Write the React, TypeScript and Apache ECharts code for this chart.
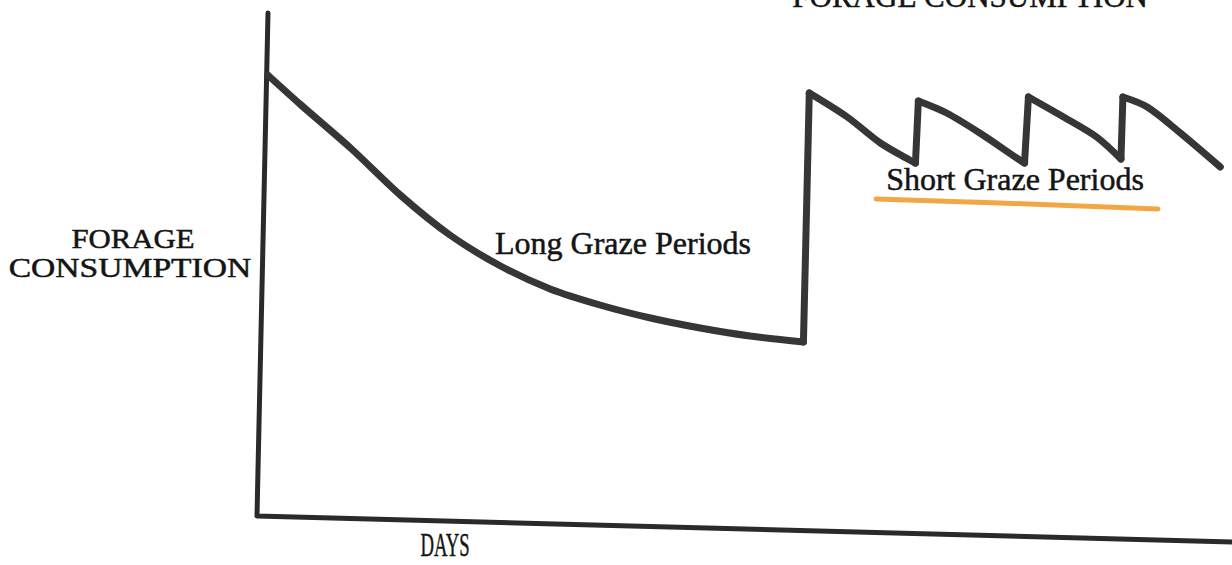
import React, { useEffect, useRef } from "react";
import * as echarts from "echarts";

// Forage consumption curve (days on x 0..100, consumption on y 0..100)
const longGrazeDays = [1.0, 4.3, 9.5, 14.6, 19.7, 24.9, 30.0, 35.1, 40.3, 45.4, 50.5, 56.0];
const longGrazeForage = [88.2, 82.4, 73.6, 64.2, 56.2, 50.0, 45.4, 42.2, 39.6, 37.6, 36.0, 34.8];

const shortGrazeDays = [56.6, 60.5, 63.9, 66.9, 67.5, 67.8, 70.7, 74.1, 78.2, 78.7, 79.1, 82.7, 86.1, 88.6, 88.8, 91.3, 94.7, 98.8];
const shortGrazeForage = [84.6, 79.8, 74.6, 71.2, 70.6, 83.0, 80.6, 76.6, 71.2, 70.6, 83.8, 79.8, 75.8, 71.4, 83.8, 81.8, 76.6, 69.8];

const yAxisLabel = ["FORAGE", "CONSUMPTION"];
const xAxisLabel = "DAYS";
const topTitle = "FORAGE CONSUMPTION";
const longLabel = "Long Graze Periods";
const shortLabel = "Short Graze Periods";

export default function App() {
  const ref = useRef<HTMLDivElement>(null);

  useEffect(() => {
    if (!ref.current) return;
    const chart = echarts.init(ref.current, null, { renderer: "svg" });
    const days = [...longGrazeDays, ...shortGrazeDays];
    const forage = [...longGrazeForage, ...shortGrazeForage];
    const pts = days.map((d, i) => [d, forage[i]]);

    // split into decay pieces (smooth) and regrowth jumps (straight)
    const pieces: number[][][] = [[pts[0]]];
    const jumps: any[] = [];
    for (let i = 1; i < pts.length; i++) {
      const prev = pts[i - 1];
      const cur = pts[i];
      if (cur[1] - prev[1] > 5) {
        jumps.push(prev, cur, "-");
        pieces.push([cur]);
      } else {
        pieces[pieces.length - 1].push(cur);
      }
    }

    const lineStyle = { color: "#363636", width: 7, cap: "round", join: "round" };
    const series: any[] = pieces.map((p) => ({
      type: "line",
      data: p,
      showSymbol: false,
      symbol: "none",
      smooth: 0.3,
      lineStyle,
    }));
    series.push({
      type: "line",
      data: jumps,
      connectNulls: false,
      showSymbol: false,
      symbol: "none",
      smooth: false,
      lineStyle,
    });

    const serif = '"Liberation Serif", "Times New Roman", serif';
    const ink = "#141414";
    const textEl = (text: string, x: number, y: number, size: number, align = "center", sx = 1) => ({
      type: "text",
      x,
      y,
      scaleX: sx,
      silent: true,
      style: {
        text,
        font: `${size}px ${serif}`,
        fill: ink,
        stroke: ink,
        lineWidth: 0.5,
        textAlign: align,
        align,
        textVerticalAlign: "middle",
        verticalAlign: "middle",
      },
    });

    chart.setOption({
      animation: false,
      backgroundColor: "#ffffff",
      grid: { left: 258, right: 0, top: 16, bottom: 49, containLabel: false },
      xAxis: {
        type: "value",
        min: 0,
        max: 100,
        axisLine: { show: false },
        axisTick: { show: false },
        axisLabel: { show: false },
        splitLine: { show: false },
      },
      yAxis: {
        type: "value",
        min: 0,
        max: 100,
        axisLine: { show: false },
        axisTick: { show: false },
        axisLabel: { show: false },
        splitLine: { show: false },
      },
      series,
      graphic: [
        // axes (hand-drawn, slightly tilted)
        {
          type: "polyline",
          silent: true,
          shape: { points: [[268, 13], [257, 516], [1232, 542]] },
          style: { stroke: "#2a2a2a", lineWidth: 5, fill: null, lineJoin: "round", lineCap: "round" },
        },
        // orange highlight underline
        {
          type: "polyline",
          silent: true,
          shape: { points: [[876, 199], [1000, 203], [1158, 209]] },
          style: { stroke: "#f2a23a", lineWidth: 5, fill: null, lineCap: "round", opacity: 0.95 },
        },
        textEl(yAxisLabel[0], 133, 238, 28, "center", 1.1),
        textEl(yAxisLabel[1], 130, 267, 28, "center", 1.2),
        textEl(longLabel, 623, 243, 32),
        textEl(shortLabel, 1015, 179, 32),
        textEl(xAxisLabel, 445, 545, 34, "center", 0.55),
        textEl(topTitle, 1148, -4, 31, "right"),
      ],
    });
    return () => chart.dispose();
  }, []);

  return (
    <div
      ref={ref}
      style={{ position: "absolute", left: 0, top: 0, width: 1232, height: 565 }}
    />
  );
}
